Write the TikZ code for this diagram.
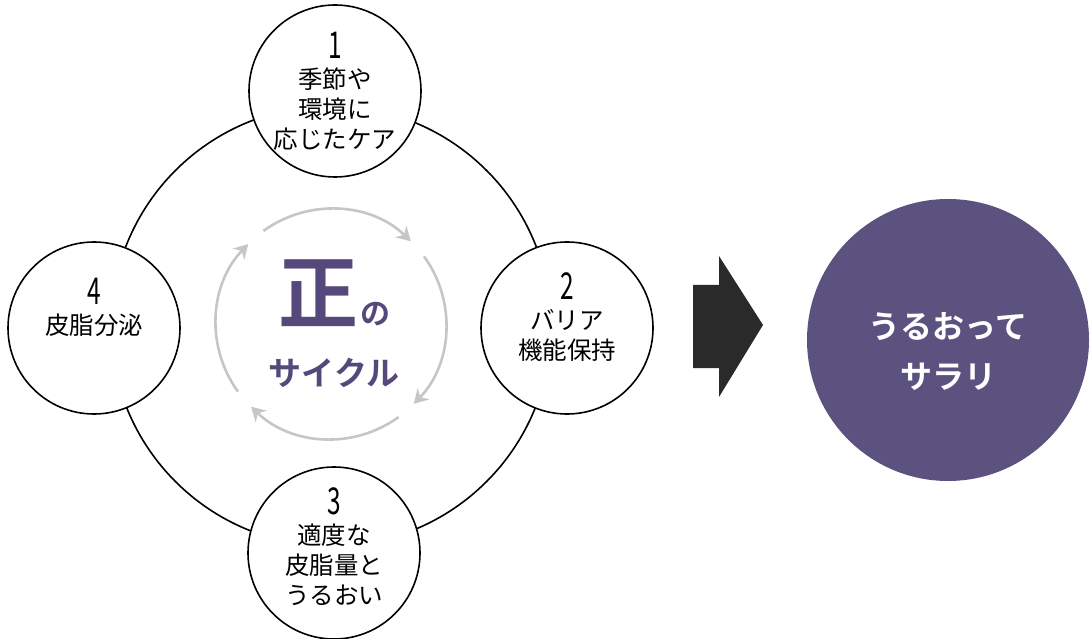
\documentclass[tikz,border=0pt]{standalone}
\usepackage{fontspec}
\setmainfont[BoldFont={Noto Sans CJK JP Bold}]{Noto Sans CJK JP}
\newfontfamily\numfont[FakeStretch=0.66]{Noto Sans CJK JP}
\usetikzlibrary{arrows.meta,calc}
\definecolor{cyclepurple}{HTML}{54497A}
\definecolor{okpurple}{HTML}{5C5280}
\definecolor{ringgray}{HTML}{C6C6C6}
\definecolor{arrowblack}{HTML}{2A2A2A}
\begin{document}
\begin{tikzpicture}[x=1pt,y=1pt,
  stepcirc/.style={circle, draw, line width=1.6pt, fill=white, minimum size=172pt, inner sep=0pt},
  steptext/.style={align=center, font=\fontsize{24.5}{30}\selectfont},
  ringarc/.style={ringgray, line width=2.6pt, -{Stealth[length=14pt,width=16pt]}}]
\useasboundingbox (0,0) rectangle (1092,638);
\coordinate (ctr) at (331,312);
\coordinate (ring) at (331,314);
\draw[line width=1.6pt] (ctr) circle[radius=220];
% the four steps
\node[stepcirc] (c1) at (335,547){};
\node[stepcirc] (c2) at (567,310){};
\node[stepcirc] (c3) at (334,85){};
\node[stepcirc] (c4) at (94,310){};
\node[steptext] (t1) at (c1) {{\numfont\fontsize{37}{30}\selectfont 1}\\季節や\\環境に\\応じたケア};
\node[steptext] (t2) at ([yshift=11]c2.center) {{\numfont\fontsize{37}{30}\selectfont 2}\\バリア\\機能保持};
\node[steptext] (t3) at ([yshift=6]c3.center) {{\numfont\fontsize{37}{30}\selectfont 3}\\適度な\\皮脂量と\\うるおい};
\node[steptext] (t4) at ([yshift=21]c4.center) {{\numfont\fontsize{37}{48}\selectfont 4}\\皮脂分泌};
% cycle in the middle
\foreach \a in {0,90,180,270}
  \draw[ringarc] ($(ring)+({126-\a}:115)$) arc[start angle={126-\a}, end angle={46-\a}, radius=115];
\node[text=cyclepurple, font=\fontsize{80}{80}\selectfont\bfseries] (sei) at (318,345) {正};
\node[text=cyclepurple, font=\fontsize{30}{30}\selectfont\bfseries] (no) at (375,324) {の};
\node[text=cyclepurple, font=\fontsize{33}{33}\selectfont\bfseries] (cyc) at (334,265) {サイクル};
% result
\fill[arrowblack] (693,353) -- (719,353) -- (719,382) -- (763,313) -- (719,241) -- (719,270) -- (693,270) -- cycle;
\node[circle, fill=okpurple, minimum size=282pt, inner sep=0pt] (res) at (948,298){};
\node[text=white, align=center, font=\fontsize{32}{50}\selectfont\bfseries] (rest) at ([yshift=-12]res.center) {うるおって\\サラリ};
\end{tikzpicture}
\end{document}
